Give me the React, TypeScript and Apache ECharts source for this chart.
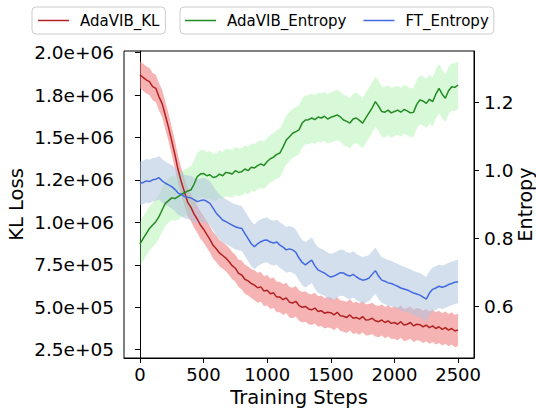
import React, { useEffect, useRef } from "react";
import * as echarts from "echarts";

const STEP = 25;

// AdaVIB_KL mean (KL loss), one value every 25 steps, 0..2500
const klMean = [
  1870000, 1855000, 1840000, 1830000, 1800000, 1790000, 1740000, 1700000, 1630000, 1560000,
  1480000, 1400000, 1310000, 1240000, 1180000, 1120000, 1090000, 1050000, 1020000, 985000,
  960000, 930000, 900000, 865000, 845000, 820000, 805000, 790000, 770000, 745000,
  730000, 700000, 690000, 665000, 655000, 640000, 630000, 615000, 620000, 595000,
  600000, 580000, 585000, 560000, 560000, 545000, 555000, 530000, 525000, 535000,
  510000, 500000, 505000, 490000, 485000, 495000, 475000, 480000, 465000, 470000,
  468000, 455000, 470000, 450000, 447000, 440000, 455000, 435000, 440000, 430000,
  445000, 425000, 427000, 435000, 420000, 415000, 425000, 410000, 420000, 405000,
  410000, 400000, 415000, 395000, 400000, 410000, 390000, 400000, 397000, 385000,
  395000, 380000, 390000, 375000, 385000, 370000, 380000, 365000, 375000, 360000,
  367000,
];
// band half-width, one value every 100 steps
const klStd = [
  80000, 80000, 82000, 82000, 80000, 78000, 78000, 80000, 85000, 88000,
  90000, 90000, 90000, 90000, 90000, 90000, 92000, 92000, 92000, 92000,
  95000, 95000, 95000, 95000, 95000, 95000,
];

// AdaVIB_Entropy mean, every 25 steps
const adaEntMean = [
  0.784, 0.8, 0.815, 0.83, 0.84, 0.85, 0.865, 0.885, 0.904, 0.912,
  0.92, 0.918, 0.924, 0.93, 0.935, 0.94, 0.943, 0.96, 0.982, 0.99,
  0.992, 0.985, 0.988, 0.98, 0.982, 0.99, 0.985, 0.995, 0.993, 0.99,
  1.0, 0.995, 0.997, 1.005, 1.0, 1.01, 1.008, 1.015, 1.02, 1.015,
  1.027, 1.035, 1.04, 1.048, 1.052, 1.07, 1.09, 1.1, 1.11, 1.115,
  1.12, 1.14, 1.149, 1.15, 1.155, 1.15, 1.158, 1.155, 1.16, 1.152,
  1.157, 1.16, 1.164, 1.158, 1.149, 1.145, 1.14, 1.152, 1.155, 1.148,
  1.14, 1.155, 1.17, 1.185, 1.203, 1.19, 1.174, 1.172, 1.178, 1.17,
  1.174, 1.178, 1.172, 1.18, 1.176, 1.17, 1.172, 1.195, 1.208, 1.205,
  1.198, 1.21, 1.203, 1.225, 1.242, 1.225, 1.213, 1.235, 1.247, 1.245,
  1.252,
];
const adaEntStd = [
  0.065, 0.065, 0.065, 0.068, 0.07, 0.07, 0.07, 0.07, 0.07, 0.07,
  0.07, 0.072, 0.072, 0.072, 0.072, 0.074, 0.074, 0.074, 0.074, 0.074,
  0.072, 0.072, 0.072, 0.072, 0.07, 0.07,
];

// FT_Entropy mean, every 25 steps
const ftEntMean = [
  0.963, 0.965, 0.97, 0.968, 0.973, 0.975, 0.979, 0.97, 0.963, 0.958,
  0.953, 0.945, 0.934, 0.93, 0.924, 0.922, 0.92, 0.915, 0.909, 0.912,
  0.914, 0.91, 0.904, 0.89, 0.875, 0.865, 0.855, 0.85, 0.845, 0.84,
  0.835, 0.832, 0.83, 0.815, 0.8, 0.785, 0.776, 0.785, 0.791, 0.795,
  0.796, 0.79, 0.787, 0.79, 0.781, 0.775, 0.767, 0.77, 0.767, 0.76,
  0.743, 0.73, 0.723, 0.73, 0.737, 0.72, 0.708, 0.703, 0.699, 0.692,
  0.687, 0.69, 0.695, 0.7, 0.699, 0.693, 0.69, 0.695, 0.688, 0.682,
  0.678, 0.68, 0.684, 0.695, 0.706, 0.69, 0.678, 0.675, 0.67, 0.668,
  0.664, 0.66, 0.655, 0.652, 0.649, 0.645, 0.64, 0.637, 0.634, 0.628,
  0.622, 0.64, 0.651, 0.655, 0.66, 0.657, 0.66, 0.665, 0.668, 0.672,
  0.673,
];
const ftEntStd = [
  0.064, 0.064, 0.064, 0.064, 0.065, 0.065, 0.066, 0.066, 0.066, 0.066,
  0.066, 0.067, 0.067, 0.067, 0.067, 0.068, 0.068, 0.068, 0.068, 0.067,
  0.066, 0.065, 0.065, 0.064, 0.064, 0.064,
];

const xTicks = [0, 500, 1000, 1500, 2000, 2500];
const leftTicks = [250000, 500000, 750000, 1000000, 1250000, 1500000, 1750000, 2000000];
const leftTickLabels = ["2.5e+05", "5.0e+05", "7.5e+05", "1.0e+06", "1.2e+06", "1.5e+06", "1.8e+06", "2.0e+06"];
const rightTicks = [0.6, 0.8, 1.0, 1.2];
const rightTickLabels = ["0.6", "0.8", "1.0", "1.2"];

const FONT = "DejaVu Sans";

function bandSeries(name: string, mean: number[], std: number[], yAxisIndex: number, fill: string) {
  const rows = mean.map((m, i) => {
    const s = std[Math.floor(i / 4)];
    return [i * STEP, m - s, m + s];
  });
  return {
    name,
    type: "custom",
    yAxisIndex,
    data: rows,
    encode: { x: 0, y: [1, 2] },
    silent: true,
    renderItem: (params: any, api: any) => {
      if (params.dataIndex !== 0) return null;
      const upper = rows.map((r) => api.coord([r[0], r[2]]));
      const lower = rows.map((r) => api.coord([r[0], r[1]])).reverse();
      return {
        type: "polygon",
        shape: { points: upper.concat(lower) },
        style: { fill, stroke: "none" },
        silent: true,
      };
    },
  };
}

function lineSeries(name: string, mean: number[], yAxisIndex: number, color: string) {
  return {
    name,
    type: "line",
    yAxisIndex,
    data: mean.map((m, i) => [i * STEP, m]),
    symbol: "none",
    color,
    lineStyle: { width: 1.5, color },
  };
}

const axisCommon = {
  axisLine: { show: true, lineStyle: { color: "#000", width: 1 } },
  axisTick: { show: true, length: 5, lineStyle: { color: "#000", width: 1 } },
  splitLine: { show: false },
};

export default function App() {
  const ref = useRef<HTMLDivElement>(null);
  useEffect(() => {
    if (!ref.current) return;
    const chart = echarts.init(ref.current, null, { renderer: "svg" });
    const legendCommon = {
      top: 7,
      orient: "horizontal",
      icon: "rect",
      itemWidth: 31,
      itemHeight: 1.5,
      borderColor: "#cccccc",
      borderWidth: 1,
      borderRadius: 4,
      backgroundColor: "#fff",
      textStyle: { fontFamily: FONT, fontSize: 15, color: "#000", padding: [0, 0, 0, 6] },
      selectedMode: false,
    };
    chart.setOption({
      animation: false,
      backgroundColor: "#fff",
      textStyle: { fontFamily: FONT },
      legend: [
        { ...legendCommon, left: 32, data: ["AdaVIB_KL"], padding: [6, 6, 6, 6] },
        {
          ...legendCommon,
          left: 180,
          data: ["AdaVIB_Entropy", "FT_Entropy"],
          itemGap: 17,
          padding: [6, 5, 6, 5],
        },
      ],
      grid: {
        left: 124,
        right: 62,
        top: 51,
        bottom: 52,
        containLabel: false,
        outerBoundsMode: "none",
        show: true,
        borderColor: "#000",
        borderWidth: 1,
        backgroundColor: "transparent",
      },
      xAxis: {
        type: "value",
        min: -125,
        max: 2625,
        ...axisCommon,
        axisTick: { ...axisCommon.axisTick, customValues: xTicks },
        axisLabel: {
          customValues: xTicks,
          formatter: (v: number) => String(v),
          fontFamily: FONT,
          fontSize: 18,
          color: "#000",
          margin: 7,
        },
        name: "Training Steps",
        nameLocation: "middle",
        nameGap: 29,
        nameMoveOverlap: false,
        nameTextStyle: { fontFamily: FONT, fontSize: 19.5, color: "#000" },
      },
      yAxis: [
        {
          type: "value",
          min: 201000,
          max: 2010000,
          position: "left",
          ...axisCommon,
          axisTick: { ...axisCommon.axisTick, customValues: leftTicks },
          axisLabel: {
            customValues: leftTicks,
            formatter: (v: number) => {
              const i = leftTicks.indexOf(v);
              return i >= 0 ? leftTickLabels[i] : "";
            },
            fontFamily: FONT,
            fontSize: 18.5,
            color: "#000",
            margin: 10,
          },
          name: "KL Loss",
          nameLocation: "middle",
          nameGap: 98,
          nameMoveOverlap: false,
          nameTextStyle: { fontFamily: FONT, fontSize: 19.5, color: "#000" },
        },
        {
          type: "value",
          min: 0.449,
          max: 1.352,
          position: "right",
          ...axisCommon,
          axisTick: { ...axisCommon.axisTick, customValues: rightTicks },
          axisLabel: {
            customValues: rightTicks,
            formatter: (v: number) => {
              const i = rightTicks.findIndex((t) => Math.abs(t - v) < 1e-9);
              return i >= 0 ? rightTickLabels[i] : "";
            },
            fontFamily: FONT,
            fontSize: 18.5,
            color: "#000",
            margin: 10,
          },
          name: "Entropy",
          nameLocation: "middle",
          nameRotate: 90,
          nameGap: 41,
          nameMoveOverlap: false,
          nameTextStyle: { fontFamily: FONT, fontSize: 19, color: "#000" },
        },
      ],
      series: [
        bandSeries("kl_band", klMean, klStd, 0, "rgba(240,128,128,0.6)"),
        lineSeries("AdaVIB_KL", klMean, 0, "#b22222"),
        bandSeries("ada_band", adaEntMean, adaEntStd, 1, "rgba(144,238,144,0.35)"),
        lineSeries("AdaVIB_Entropy", adaEntMean, 1, "#228b22"),
        bandSeries("ft_band", ftEntMean, ftEntStd, 1, "rgba(176,196,222,0.55)"),
        lineSeries("FT_Entropy", ftEntMean, 1, "#4169e1"),
      ],
    });
    return () => chart.dispose();
  }, []);
  return <div ref={ref} style={{ width: 536, height: 410, position: "absolute", left: 0, top: 0 }} />;
}
